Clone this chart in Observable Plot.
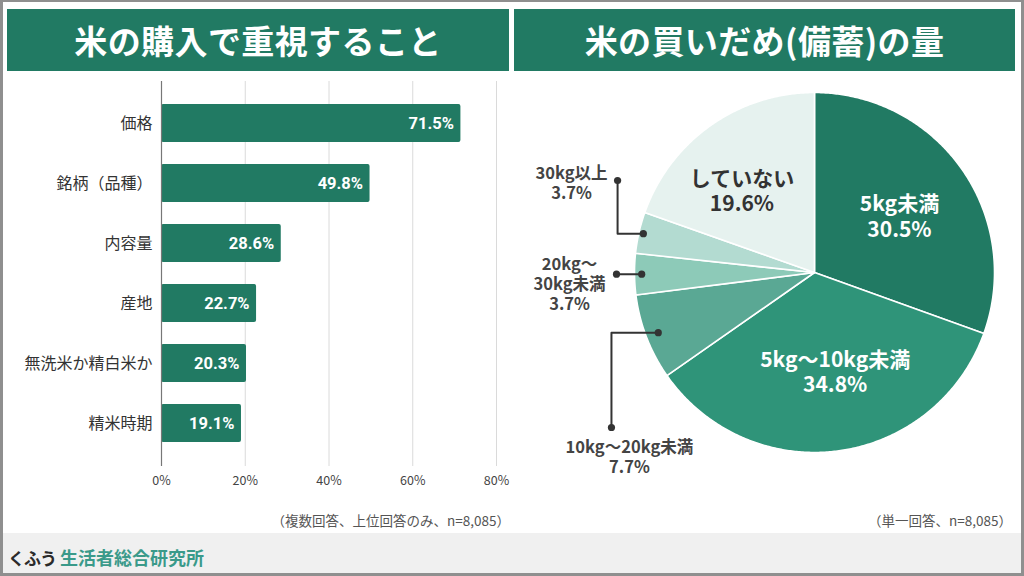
<!DOCTYPE html>
<html>
<head>
<meta charset="utf-8">
<script src="https://cdn.jsdelivr.net/npm/d3@7"></script>
<script src="https://cdn.jsdelivr.net/npm/@observablehq/plot@0.6"></script>
<style>
  html, body { margin: 0; padding: 0; background: #fff; }
  #frame {
    position: relative; width: 1024px; height: 576px; overflow: hidden; background: #fff;
    font-family: "Noto Sans CJK JP", "Noto Sans", sans-serif;
  }
  .edge {
    position: absolute; left: 0; top: 0; width: 1024px; height: 576px; box-sizing: border-box;
    border: solid #8f8f8f; border-width: 2px 3px 3px 3px; pointer-events: none; z-index: 5;
  }
  .title {
    position: absolute; top: 9px; height: 62px; background: #217a63; color: #fff;
    font-size: 33px; font-weight: 700; display: flex; align-items: center; justify-content: center;
    letter-spacing: 0.4px;
  }
  .note {
    position: absolute; top: 510px; line-height: 20px; font-size: 13.5px; color: #555; white-space: nowrap;
  }
  #footer {
    position: absolute; left: 0; top: 533px; width: 1024px; height: 40px; background: #f0f0f0;
  }
  #brand {
    position: absolute; left: 8px; top: 544px; line-height: 26px; font-size: 18px; white-space: nowrap;
  }
  #brand .a { color: #2b2b2b; font-weight: 700; font-size: 17px; letter-spacing: -1px; }
  #brand .b { color: #3a9a8a; font-weight: 600; margin-left: 4px; }
  #bars { position: absolute; left: 0; top: 72px; }
  #pie { position: absolute; left: 515px; top: 72px; }
</style>
</head>
<body>
<div id="frame">
  <div class="title" style="left:7px;width:502px;">米の購入で重視すること</div>
  <div class="title" style="left:514px;width:501px;">米の買いだめ(備蓄)の量</div>
  <div id="bars"></div>
  <div id="pie"></div>
  <div class="note" style="right:514px;">（複数回答、上位回答のみ、n=8,085）</div>
  <div class="note" style="right:12px;">（単一回答、n=8,085）</div>
  <div id="footer"></div>
  <div id="brand"><span class="a">くふう</span><span class="b">生活者総合研究所</span></div>
  <div class="edge"></div>
</div>
<script>
// Purchase factors (multiple answers, top answers only)
const factors = ["価格", "銘柄（品種）", "内容量", "産地", "無洗米か精白米か", "精米時期"];
const factorShares = [71.5, 49.8, 28.6, 22.7, 20.3, 19.1];
const xTicks = [0, 20, 40, 60, 80];

// Stockpiled amount (single answer)
const stockLevels = ["5kg未満", "5kg〜10kg未満", "10kg〜20kg未満", "20kg〜30kg未満", "30kg以上", "していない"];
const stockLabelText = ["5kg未満", "5kg〜10kg未満", "10kg〜20kg未満", "20kg〜\n30kg未満", "30kg以上", "していない"];
const stockShares = [30.5, 34.8, 7.7, 3.7, 3.7, 19.6];
const stockColors = ["#217a63", "#2f9479", "#5aa894", "#8dcab8", "#b3dbd1", "#e6f2ef"];

const FONT = '"Noto Sans CJK JP", "Noto Sans", sans-serif';

// ---- Bar chart ----
const factorRows = factors.map((f, i) => ({factor: f, share: factorShares[i]}));

const barChart = Plot.plot({
  width: 515, height: 430,
  marginLeft: 161, marginRight: 19, marginTop: 9, marginBottom: 36,
  style: {fontFamily: FONT, background: "transparent", overflow: "visible"},
  x: {domain: [0, 80]},
  y: {domain: factors, padding: 0.36},
  marks: [
    Plot.gridX(xTicks, {stroke: "#dadada", strokeOpacity: 1}),
    Plot.barX(factorRows, {x: "share", y: "factor", fill: "#217a63", rx: 2}),
    Plot.ruleX([0], {stroke: "#777", strokeWidth: 1.2}),
    Plot.axisX(xTicks, {tickSize: 0, tickPadding: 10, tickFormat: d => d + "%", fontSize: 12.5, color: "#444", label: null}),
    Plot.axisY({tickSize: 0, tickPadding: 9, fontSize: 16, color: "#333", label: null}),
    Plot.text(factorRows, {
      x: "share", y: "factor", text: d => d.share.toFixed(1) + "%",
      dx: -7, textAnchor: "end", fill: "#fff", fontWeight: 700, fontSize: 16.5,
      fontFamily: "Roboto, 'Liberation Sans', sans-serif"
    })
  ]
});
document.getElementById("bars").appendChild(barChart);

// ---- Pie chart (unit circle in x/y data space) ----
const total = d3.sum(stockShares);
let acc = 0;
const slices = stockLevels.map((name, i) => {
  const a0 = acc / total * 2 * Math.PI;
  acc += stockShares[i];
  const a1 = acc / total * 2 * Math.PI;
  return {name, i, a0, a1, mid: (a0 + a1) / 2, share: stockShares[i]};
});

// wedge outlines: centre, then the arc sampled every half degree
const wedgePoints = slices.flatMap(s => {
  const n = Math.max(2, Math.ceil((s.a1 - s.a0) / (Math.PI / 360)));
  const pts = [{name: s.name, x: 0, y: 0}];
  for (let k = 0; k <= n; k++) {
    const a = s.a0 + (s.a1 - s.a0) * k / n;
    pts.push({name: s.name, x: Math.sin(a), y: Math.cos(a)});
  }
  return pts;
});

// label placement, in radius units
const labelLayout = [
  {inside: true, x: 0.472, y: 0.314, color: "#fff"},
  {inside: true, x: 0.115, y: -0.55, color: "#fff"},
  {inside: false, x: -1.028, y: -1.022, leadX: -1.128, leadY: -0.861, r: 0.93},
  {inside: false, x: -1.361, y: -0.061, leadX: -1.1, leadY: null, r: 0.96},
  {inside: false, x: -1.35, y: 0.5, leadX: -1.094, leadY: 0.511, r: 0.975},
  {inside: true, x: -0.403, y: 0.458, color: "#333"}
];

const labels = slices.map(s => ({
  ...labelLayout[s.i],
  text: stockLabelText[s.i] + "\n" + s.share.toFixed(1) + "%",
  slice: s
}));
const insideLabels = labels.filter(d => d.inside);
const outsideLabels = labels.filter(d => !d.inside);

const leaders = outsideLabels.flatMap(d => {
  const ax = d.r * Math.sin(d.slice.mid), ay = d.r * Math.cos(d.slice.mid);
  const sy = d.leadY ?? ay;
  return [
    {k: d.slice.name, x: d.leadX, y: sy, end: true},
    {k: d.slice.name, x: d.leadX, y: ay, end: false},
    {k: d.slice.name, x: ax, y: ay, end: true}
  ];
});

const pieChart = Plot.plot({
  width: 505, height: 430,
  marginLeft: 119, marginRight: 26, marginTop: 20, marginBottom: 50,
  style: {fontFamily: FONT, background: "transparent", overflow: "visible"},
  x: {domain: [-1, 1], axis: null},
  y: {domain: [-1, 1], axis: null},
  color: {domain: stockLevels, range: stockColors},
  marks: [
    Plot.line(wedgePoints, {x: "x", y: "y", z: "name", fill: "name", stroke: "#fff", strokeWidth: 1.6, curve: "linear-closed"}),
    Plot.line(leaders, {x: "x", y: "y", z: "k", stroke: "#333", strokeWidth: 2}),
    Plot.dot(leaders.filter(d => d.end), {x: "x", y: "y", r: 3.6, fill: "#333", stroke: null}),
    Plot.text(insideLabels, {
      x: "x", y: "y", text: "text", fill: d => d.color,
      fontSize: 21, fontWeight: 700, lineHeight: 1.2
    }),
    Plot.text(outsideLabels, {
      x: "x", y: "y", text: "text", fill: "#444",
      fontSize: 16.5, fontWeight: 700, lineHeight: 1.2
    })
  ]
});
document.getElementById("pie").appendChild(pieChart);
</script>
</body>
</html>
